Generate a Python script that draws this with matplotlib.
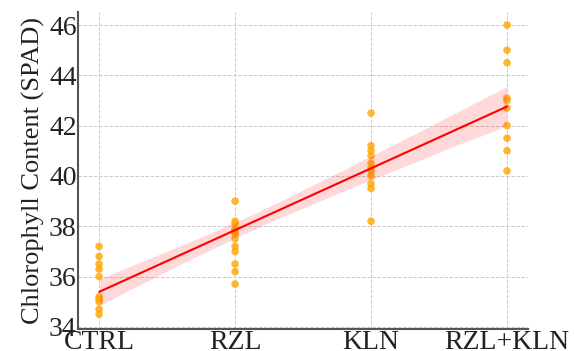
import numpy as np
import pandas as pd
import matplotlib
matplotlib.use("Agg")
import matplotlib.pyplot as plt
import seaborn as sns

treatments = ["CTRL", "RZL", "KLN", "RZL+KLN"]
ctrl = [37.2, 36.8, 36.5, 36.3, 36.0, 35.2, 35.1, 35.0, 34.7, 34.5]
rzl = [39.0, 38.2, 38.1, 37.9, 37.8, 37.7, 37.5, 37.2, 37.0, 36.5, 36.2, 35.7]
kln = [42.5, 41.2, 41.0, 40.8, 40.5, 40.3, 40.2, 40.0, 39.7, 39.5, 38.2]
rzl_kln = [46.0, 45.0, 44.5, 43.1, 43.0, 42.7, 42.0, 41.5, 41.0, 40.2]
y_ticks = [34, 36, 38, 40, 42, 44, 46]

groups = [ctrl, rzl, kln, rzl_kln]
df = pd.DataFrame({
    "code": np.concatenate([[i] * len(g) for i, g in enumerate(groups)]),
    "spad": np.concatenate(groups),
})

sns.set_style("whitegrid")
plt.rcParams["font.family"] = ["Liberation Serif", "DejaVu Serif"]

fig = plt.figure(figsize=(5.74, 3.51), dpi=100)
ax = fig.add_axes([0.136, 0.063, 0.784, 0.903])

sns.regplot(data=df, x="code", y="spad", ax=ax, ci=95,
            scatter_kws=dict(color="orange", alpha=0.8, s=30, edgecolor="none"),
            line_kws=dict(color="red", lw=1.5))
ax.collections[-1].set_facecolor((1.0, 0.0, 0.0, 0.15))

ax.set_xlim(-0.155, 3.155)
ax.set_ylim(33.92, 46.52)
ax.set_xticks(range(len(treatments)))
ax.set_xticklabels(treatments)
ax.set_yticks(y_ticks)
ax.tick_params(axis="both", labelsize=20, length=0, pad=1, colors="#222222")
ax.set_xlabel("")
ax.set_ylabel("Chlorophyll Content (SPAD)", fontsize=19, color="#222222", labelpad=3)

ax.grid(True, linestyle="--", color="#cccccc", linewidth=0.7)
for side in ["top", "right"]:
    ax.spines[side].set_visible(False)
for side in ["left", "bottom"]:
    ax.spines[side].set_color("#555555")
    ax.spines[side].set_linewidth(1.5)

fig.savefig("out.png", dpi=100)
